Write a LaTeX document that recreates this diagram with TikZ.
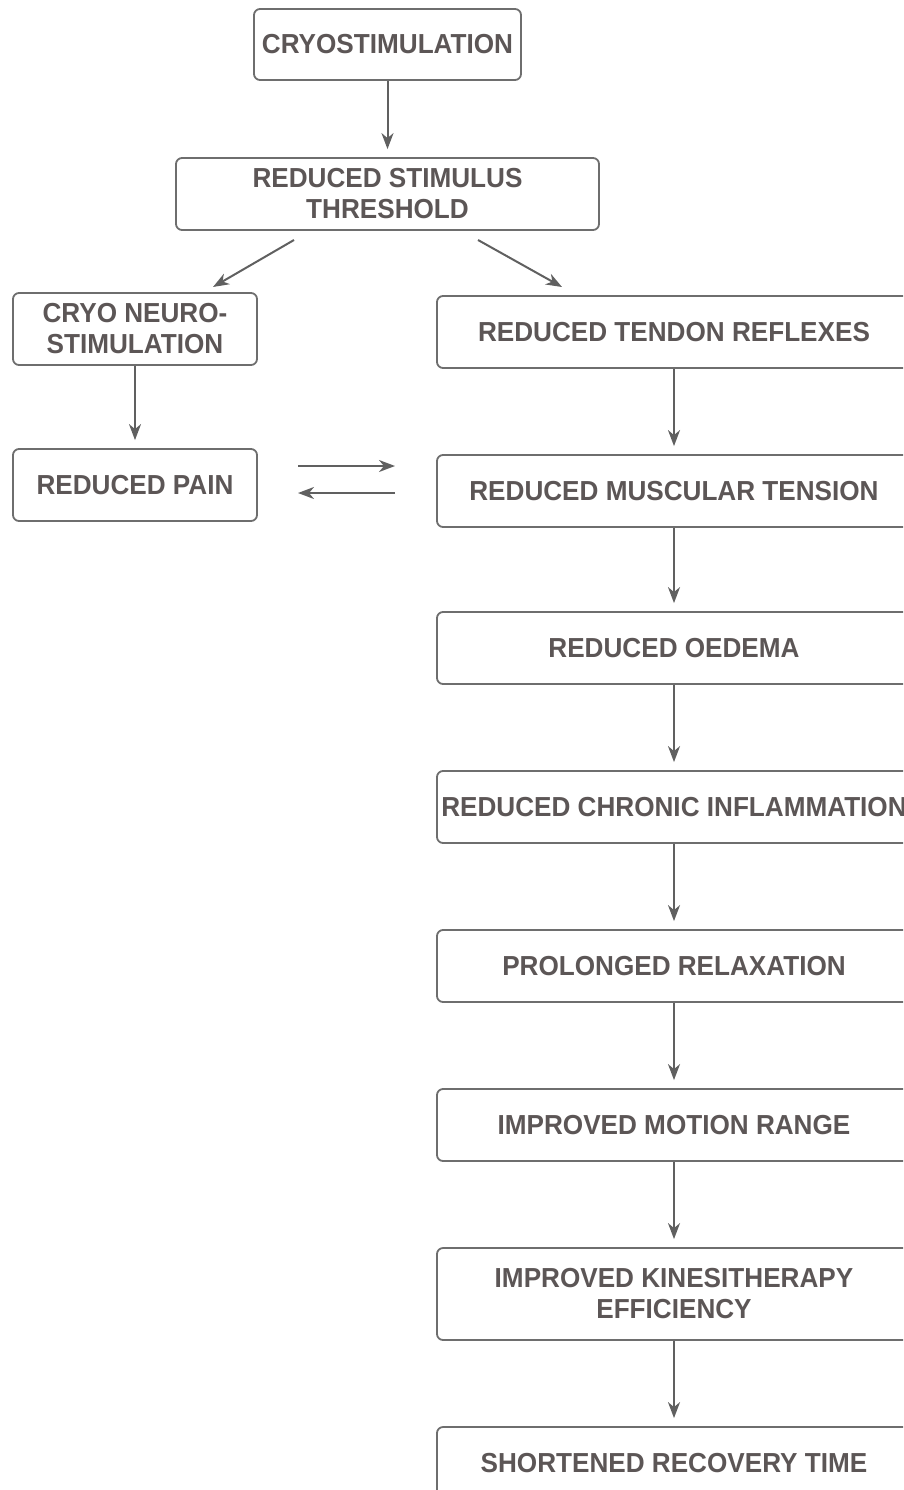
\documentclass[tikz,border=0pt]{standalone}
\usepackage{fontspec}
\setmainfont{Liberation Sans}[FakeStretch=0.95]
\usetikzlibrary{arrows.meta,calc}
\definecolor{txt}{RGB}{92,86,86}
\definecolor{bord}{RGB}{110,110,110}
\definecolor{arr}{RGB}{96,96,96}
\tikzset{
  box/.style={draw=bord, line width=1.8pt, rounded corners=6pt, fill=white,
    text=txt, font=\fontsize{27.5}{31}\selectfont\bfseries, align=center,
    inner sep=0pt, minimum height=72pt},
  rbox/.style={box, minimum width=474pt},
  lbox/.style={box, minimum width=244pt},
  conn/.style={draw=arr, line width=2pt,
    -{Stealth[length=16pt,width=12pt,inset=5pt]}}
}
\begin{document}
\begin{tikzpicture}[x=1pt,y=-1pt]
\useasboundingbox (0,0) rectangle (903,1490);
\clip (0,0) rectangle (903,1490);
\node[box, minimum width=267pt, minimum height=71pt] (cryo) at (387.5,44.5) {CRYOSTIMULATION};
\node[box, minimum width=423pt] (thr) at (387.5,194) {REDUCED STIMULUS\\THRESHOLD};
\node[lbox] (neuro) at (135,329) {CRYO NEURO-\\STIMULATION};
\node[lbox] (pain) at (135,485) {REDUCED PAIN};
\node[rbox] (tendon) at (674,332) {REDUCED TENDON REFLEXES};
\node[rbox] (musc) at (674,491) {REDUCED MUSCULAR TENSION};
\node[rbox] (oed) at (674,648) {REDUCED OEDEMA};
\node[rbox] (chron) at (674,807) {REDUCED CHRONIC INFLAMMATION};
\node[rbox] (prol) at (674,966) {PROLONGED RELAXATION};
\node[rbox] (motion) at (674,1125) {IMPROVED MOTION RANGE};
\node[rbox, minimum height=92pt] (kin) at (674,1294) {IMPROVED KINESITHERAPY\\EFFICIENCY};
\node[rbox] (short) at (674,1463) {SHORTENED RECOVERY TIME};

\coordinate (dl1) at (294,240);
\coordinate (dl2) at (213,287);
\coordinate (dr1) at (478,240);
\coordinate (dr2) at (562,287);
\coordinate (ha1) at (298,466);
\coordinate (ha2) at (395,466);
\coordinate (hb1) at (395,493);
\coordinate (hb2) at (298,493);

\draw[conn, shorten >=8pt] (cryo.south) -- (thr.north);
\draw[conn] (dl1) -- (dl2);
\draw[conn] (dr1) -- (dr2);
\draw[conn, shorten >=8pt] (neuro.south) -- (pain.north);
\draw[conn] (ha1) -- (ha2);
\draw[conn] (hb1) -- (hb2);
\draw[conn, shorten >=8pt] (tendon.south) -- (musc.north);
\draw[conn, shorten >=8pt] (musc.south) -- (oed.north);
\draw[conn, shorten >=8pt] (oed.south) -- (chron.north);
\draw[conn, shorten >=8pt] (chron.south) -- (prol.north);
\draw[conn, shorten >=8pt] (prol.south) -- (motion.north);
\draw[conn, shorten >=8pt] (motion.south) -- (kin.north);
\draw[conn, shorten >=8pt] (kin.south) -- (short.north);
\end{tikzpicture}
\end{document}
